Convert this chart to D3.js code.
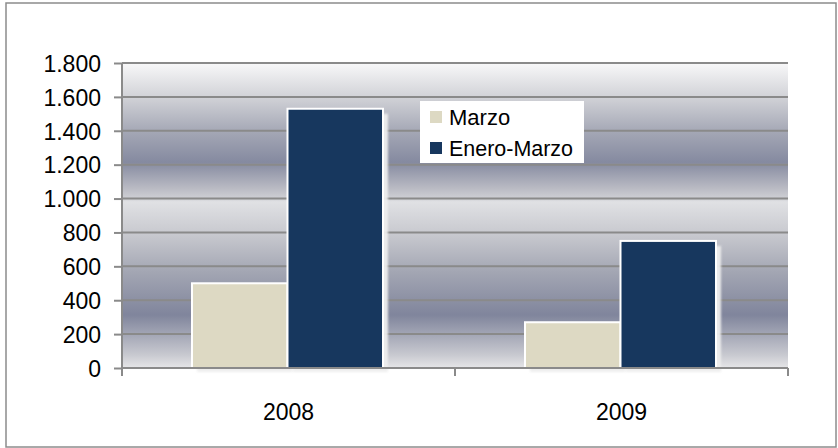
<!DOCTYPE html>
<html>
<head>
<meta charset="utf-8">
<script src="https://cdn.jsdelivr.net/npm/d3@7"></script>
<style>
  body { margin: 0; background: #fff; }
  svg text { font-family: "Liberation Sans", Arial, sans-serif; fill: #000; }
</style>
</head>
<body>
<div id="chart"></div>
<script>
// Datos del gráfico
const years = ["2008", "2009"];
const series = ["Marzo", "Enero-Marzo"];
const marzo = [500, 270];
const eneroMarzo = [1530, 750];
const yTicks = [0, 200, 400, 600, 800, 1000, 1200, 1400, 1600, 1800];
const colors = ["#DDD9C3", "#17375E"];

const width = 838, height = 448;
const margin = { top: 63, right: 50, bottom: 80, left: 122 };
const plotW = width - margin.left - margin.right;   // 666
const plotH = height - margin.top - margin.bottom;  // 305

// Tabla para las barras
const rows = years.map((y, i) => ({ year: y, values: [marzo[i], eneroMarzo[i]] }));

const svg = d3.select("#chart").append("svg")
    .attr("width", width)
    .attr("height", height);

// Marco exterior
svg.append("rect")
    .attr("x", 6).attr("y", 3)
    .attr("width", 830).attr("height", 444)
    .attr("fill", "#fff")
    .attr("stroke", "#8c8c8c")
    .attr("stroke-width", 1.5);

const defs = svg.append("defs");
const grad = defs.append("linearGradient")
    .attr("id", "bg").attr("x1", 0).attr("y1", 0).attr("x2", 0).attr("y2", 1);
[[0, "#f8f8f9"], [0.115, "#d0d1d6"], [0.226, "#a4a7b5"], [0.325, "#858aa0"],
 [0.41, "#b9bac3"], [0.445, "#cfd0d5"], [0.455, "#e0e1e4"], [0.564, "#c7c8ce"],
 [0.685, "#a3a6b3"], [0.826, "#80859c"], [0.957, "#c8c9d0"], [1, "#e6e6e8"]]
    .forEach(s => grad.append("stop").attr("offset", s[0]).attr("stop-color", s[1]));

defs.append("filter").attr("id", "blur")
    .append("feGaussianBlur").attr("stdDeviation", 1);

const g = svg.append("g").attr("transform", `translate(${margin.left},${margin.top})`);

// Escalas
const x0 = d3.scaleBand().domain(years).range([0, plotW]);
const x1 = d3.scaleBand().domain(series).range([70, 261]);
const y = d3.scaleLinear().domain([0, 1800]).range([plotH, 0]);

// Fondo con degradado
g.append("rect")
    .attr("width", plotW).attr("height", plotH)
    .attr("fill", "url(#bg)");

// Líneas de cuadrícula
g.selectAll(".grid")
    .data(yTicks.filter(d => d > 0))
    .enter().append("line")
    .attr("x1", 0).attr("x2", plotW)
    .attr("y1", d => y(d)).attr("y2", d => y(d))
    .attr("stroke", "#8a8a8a")
    .attr("stroke-width", 2);

// Barras
const groups = g.selectAll(".year")
    .data(rows)
    .enter().append("g")
    .attr("transform", d => `translate(${x0(d.year)},0)`);

const bars = groups.selectAll(".bar")
    .data(d => d.values.map((v, i) => ({ key: series[i], value: v, i: i })))
    .enter();

// sombra clara
bars.append("rect")
    .attr("x", d => x1(d.key) + 5)
    .attr("y", d => y(d.value) + 5)
    .attr("width", x1.bandwidth())
    .attr("height", d => plotH - y(d.value) - 1)
    .attr("fill", "#eeeeee")
    .attr("opacity", 0.95)
    .attr("filter", "url(#blur)");

bars.append("rect")
    .attr("x", d => x1(d.key))
    .attr("y", d => y(d.value))
    .attr("width", x1.bandwidth())
    .attr("height", d => plotH - y(d.value))
    .attr("fill", d => colors[d.i])
    .attr("stroke", "#fff")
    .attr("stroke-width", 2);

// Eje Y
const yAxis = g.append("g")
    .call(d3.axisLeft(y).tickValues(yTicks).tickSize(8).tickPadding(13)
        .tickFormat(d => d3.format(",")(d).replace(/,/g, ".")));
yAxis.select(".domain").attr("stroke", "#8a8a8a").attr("stroke-width", 2)
    .attr("d", `M0,${plotH}V0`);
yAxis.selectAll(".tick line").attr("stroke", "#8a8a8a").attr("stroke-width", 2);
yAxis.selectAll("text").style("font-size", "23px").attr("dy", "0.36em");

// Eje X
const xAxis = g.append("g").attr("transform", `translate(0,${plotH})`);
xAxis.append("line")
    .attr("x1", 0).attr("x2", plotW)
    .attr("stroke", "#8a8a8a").attr("stroke-width", 2);
xAxis.selectAll(".xt")
    .data([0, plotW / 2, plotW])
    .enter().append("line")
    .attr("x1", d => d).attr("x2", d => d)
    .attr("y1", 0).attr("y2", 8)
    .attr("stroke", "#8a8a8a").attr("stroke-width", 2);
xAxis.selectAll(".xl")
    .data(years)
    .enter().append("text")
    .attr("x", d => x0(d) + x0.bandwidth() / 2)
    .attr("y", 52)
    .attr("text-anchor", "middle")
    .style("font-size", "23px")
    .text(d => d);

// Leyenda
const legend = svg.append("g").attr("transform", "translate(420,101)");
legend.append("rect")
    .attr("width", 164).attr("height", 62)
    .attr("fill", "#fff");
const items = legend.selectAll(".item")
    .data(series)
    .enter().append("g")
    .attr("transform", (d, i) => `translate(10,${16 + i * 31})`);
items.append("rect")
    .attr("x", 0).attr("y", -6)
    .attr("width", 12).attr("height", 12)
    .attr("fill", (d, i) => colors[i]);
items.append("text")
    .attr("x", 19).attr("dy", "0.36em")
    .style("font-size", "22px")
    .attr("textLength", 124)
    .attr("lengthAdjust", "spacingAndGlyphs")
    .text(d => d)
    .filter(d => d !== "Enero-Marzo").attr("textLength", null);
</script>
</body>
</html>
